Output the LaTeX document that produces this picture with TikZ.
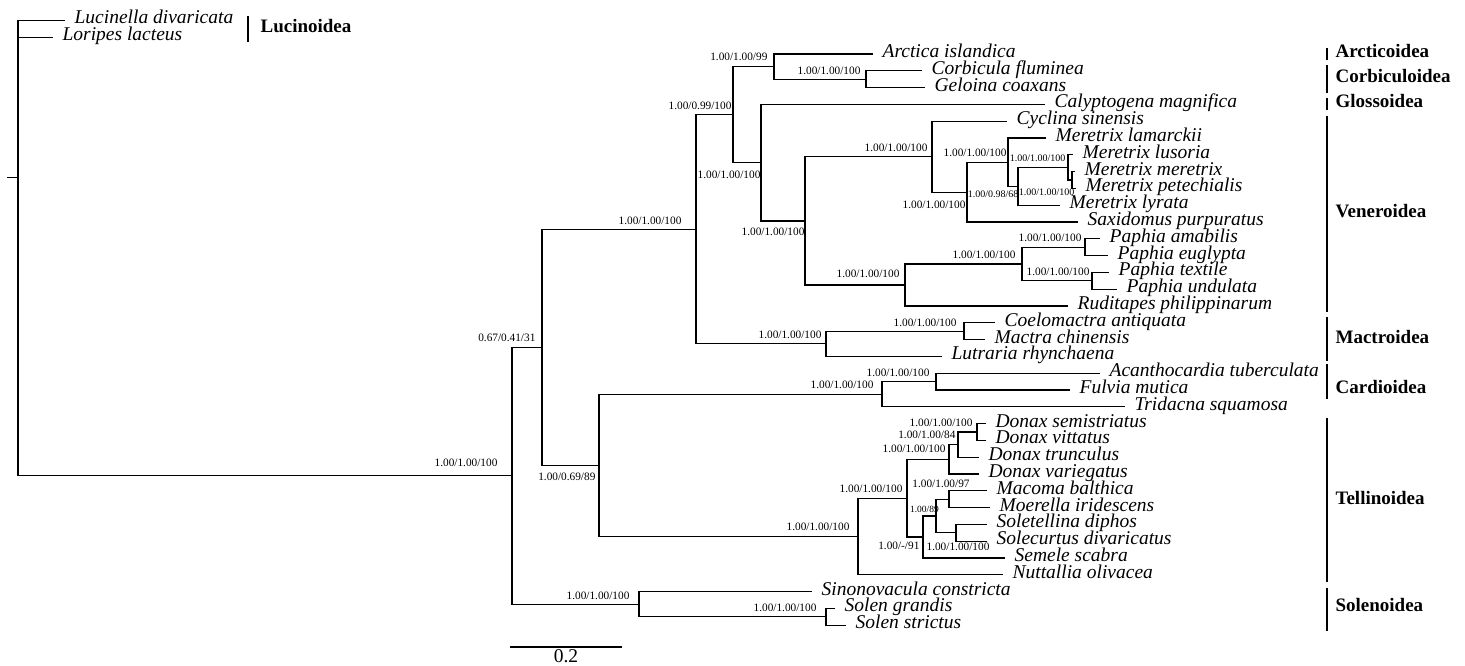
\documentclass[tikz,border=0pt]{standalone}
\usepackage{fontspec}
\setmainfont{Liberation Serif}
\usepackage{tikz}

\begin{document}
\begin{tikzpicture}[x=1pt,y=-1pt,line width=1.2pt,
	taxon/.style={anchor=west,inner xsep=9pt,inner ysep=0pt,text height=13pt,text depth=6pt,font=\fontsize{19.5}{20}\selectfont\itshape},
	supp/.style={anchor=east,inner sep=0pt,font=\fontsize{11.3}{12}\selectfont},
	suppsm/.style={supp,font=\fontsize{10}{11}\selectfont},
	clade/.style={anchor=west,inner sep=0pt,text height=13pt,text depth=6pt,font=\fontsize{19}{20}\selectfont\bfseries}]
			\useasboundingbox (0,0) rectangle (1465,665);
			
			% internal nodes
			\coordinate (stub) at (7,177.8);
			\coordinate (root) at (18,177.8);
			\coordinate (n0) at (512,475.7);
			\coordinate (nA) at (542,347.3);
			\coordinate (nB) at (696,229.2);
			\coordinate (nC) at (733,114.6);
			\coordinate (nD) at (774,66.6);
			\coordinate (nE) at (866,79.2);
			\coordinate (nF) at (761,162.7);
			\coordinate (nG) at (805,220.9);
			\coordinate (nH) at (932,156.7);
			\coordinate (nI) at (967,192.1);
			\coordinate (nJ) at (1008,162.2);
			\coordinate (nK) at (1018,186.3);
			\coordinate (nL) at (1068,167.4);
			\coordinate (nM) at (1072,180);
			\coordinate (nO) at (905,285);
			\coordinate (nP) at (1022,264);
			\coordinate (nQ) at (1085,247.2);
			\coordinate (nR) at (1092,280.8);
			\coordinate (nS) at (826,343.8);
			\coordinate (nT) at (964,331.2);
			\coordinate (nU) at (882,394.2);
			\coordinate (nV) at (936,381.6);
			\coordinate (nAA) at (599,465.3);
			\coordinate (nW) at (858,536.5);
			\coordinate (nX) at (907,498.2);
			\coordinate (nY) at (949,459.3);
			\coordinate (nYA) at (958,444.6);
			\coordinate (nYB) at (977,432);
			\coordinate (nZ) at (923,537);
			\coordinate (nAB) at (936,516);
			\coordinate (nAC) at (949,499.2);
			\coordinate (nAD) at (956,532.8);
			\coordinate (nAE) at (639,604.2);
			\coordinate (nAF) at (826,616.8);
			
			% tips
			\node[taxon] (luc) at (65,20.4) {Lucinella divaricata};
			\node[taxon] (lor) at (53,37.2) {Loripes lacteus};
			\node[taxon] (arc) at (873,54) {Arctica islandica};
			\node[taxon] (cor) at (922,70.8) {Corbicula fluminea};
			\node[taxon] (gel) at (925,87.6) {Geloina coaxans};
			\node[taxon] (cal) at (1045,104.4) {Calyptogena magnifica};
			\node[taxon] (cyc) at (1007,121.2) {Cyclina sinensis};
			\node[taxon] (mla) at (1046,138) {Meretrix lamarckii};
			\node[taxon] (mlu) at (1073,154.8) {Meretrix lusoria};
			\node[taxon] (mme) at (1075,171.6) {Meretrix meretrix};
			\node[taxon] (mpe) at (1076,188.4) {Meretrix petechialis};
			\node[taxon] (mly) at (1060,205.2) {Meretrix lyrata};
			\node[taxon] (sax) at (1078,222) {Saxidomus purpuratus};
			\node[taxon] (pam) at (1100,238.8) {Paphia amabilis};
			\node[taxon] (peu) at (1108,255.6) {Paphia euglypta};
			\node[taxon] (pte) at (1109,272.4) {Paphia textile};
			\node[taxon] (pun) at (1117,289.2) {Paphia undulata};
			\node[taxon] (rud) at (1068,306) {Ruditapes philippinarum};
			\node[taxon] (coe) at (995,322.8) {Coelomactra antiquata};
			\node[taxon] (mac) at (985,339.6) {Mactra chinensis};
			\node[taxon] (lut) at (942,356.4) {Lutraria rhynchaena};
			\node[taxon] (aca) at (1100,373.2) {Acanthocardia tuberculata};
			\node[taxon] (ful) at (1070,390) {Fulvia mutica};
			\node[taxon] (tri) at (1125,406.8) {Tridacna squamosa};
			\node[taxon] (dse) at (986,423.6) {Donax semistriatus};
			\node[taxon] (dvi) at (986,440.4) {Donax vittatus};
			\node[taxon] (dtr) at (979,457.2) {Donax trunculus};
			\node[taxon] (dva) at (979,474) {Donax variegatus};
			\node[taxon] (mcb) at (987,490.8) {Macoma balthica};
			\node[taxon] (moe) at (990,507.6) {Moerella iridescens};
			\node[taxon] (sol) at (987,524.4) {Soletellina diphos};
			\node[taxon] (scu) at (987,541.2) {Solecurtus divaricatus};
			\node[taxon] (sem) at (1005,558) {Semele scabra};
			\node[taxon] (nut) at (1003,574.8) {Nuttallia olivacea};
			\node[taxon] (sin) at (812,591.6) {Sinonovacula constricta};
			\node[taxon] (sgr) at (835,608.4) {Solen grandis};
			\node[taxon] (sst) at (846,625.2) {Solen strictus};
			
			% branches
			\draw (stub) -- (root);
			\draw (root) |- (luc.west);
			\draw (root) |- (lor.west);
			\draw (root) |- (n0);
			\draw (n0) |- (nA);
			\draw (n0) |- (nAE);
			\draw (nA) |- (nB);
			\draw (nA) |- (nAA);
			\draw (nB) |- (nC);
			\draw (nB) |- (nS);
			\draw (nC) |- (nD);
			\draw (nC) |- (nF);
			\draw (nD) |- (arc.west);
			\draw (nD) |- (nE);
			\draw (nE) |- (cor.west);
			\draw (nE) |- (gel.west);
			\draw (nF) |- (cal.west);
			\draw (nF) |- (nG);
			\draw (nG) |- (nH);
			\draw (nG) |- (nO);
			\draw (nH) |- (cyc.west);
			\draw (nH) |- (nI);
			\draw (nI) |- (nJ);
			\draw (nI) |- (sax.west);
			\draw (nJ) |- (mla.west);
			\draw (nJ) |- (nK);
			\draw (nK) |- (nL);
			\draw (nK) |- (mly.west);
			\draw (nL) |- (mlu.west);
			\draw (nL) |- (nM);
			\draw (nM) |- (mme.west);
			\draw (nM) |- (mpe.west);
			\draw (nO) |- (nP);
			\draw (nO) |- (rud.west);
			\draw (nP) |- (nQ);
			\draw (nP) |- (nR);
			\draw (nQ) |- (pam.west);
			\draw (nQ) |- (peu.west);
			\draw (nR) |- (pte.west);
			\draw (nR) |- (pun.west);
			\draw (nS) |- (nT);
			\draw (nS) |- (lut.west);
			\draw (nT) |- (coe.west);
			\draw (nT) |- (mac.west);
			\draw (nAA) |- (nU);
			\draw (nAA) |- (nW);
			\draw (nU) |- (nV);
			\draw (nU) |- (tri.west);
			\draw (nV) |- (aca.west);
			\draw (nV) |- (ful.west);
			\draw (nW) |- (nX);
			\draw (nW) |- (nut.west);
			\draw (nX) |- (nY);
			\draw (nX) |- (nZ);
			\draw (nY) |- (nYA);
			\draw (nY) |- (dva.west);
			\draw (nYA) |- (nYB);
			\draw (nYA) |- (dtr.west);
			\draw (nYB) |- (dse.west);
			\draw (nYB) |- (dvi.west);
			\draw (nZ) |- (nAB);
			\draw (nZ) |- (sem.west);
			\draw (nAB) |- (nAC);
			\draw (nAB) |- (nAD);
			\draw (nAC) |- (mcb.west);
			\draw (nAC) |- (moe.west);
			\draw (nAD) |- (sol.west);
			\draw (nAD) |- (scu.west);
			\draw (nAE) |- (sin.west);
			\draw (nAE) |- (nAF);
			\draw (nAF) |- (sgr.west);
			\draw (nAF) |- (sst.west);
			
			% support values
			\node[supp] (s0) at (498,463) {1.00/1.00/100};
			\node[supp] (sA) at (536,338) {0.67/0.41/31};
			\node[supp] (sB) at (682,221) {1.00/1.00/100};
			\node[supp] (sC) at (732,106) {1.00/0.99/100};
			\node[supp] (sD) at (768,57) {1.00/1.00/99};
			\node[supp] (sE) at (861,71) {1.00/1.00/100};
			\node[supp] (sF) at (761,175) {1.00/1.00/100};
			\node[supp] (sG) at (805,232) {1.00/1.00/100};
			\node[supp] (sH) at (928,148) {1.00/1.00/100};
			\node[supp] (sI) at (966,205) {1.00/1.00/100};
			\node[supp] (sJ) at (1007,153) {1.00/1.00/100};
			\node[suppsm] (sK) at (1019,194) {1.00/0.98/68};
			\node[suppsm] (sL) at (1066,158) {1.00/1.00/100};
			\node[suppsm] (sM) at (1075,192) {1.00/1.00/100};
			\node[supp] (sO) at (900,274) {1.00/1.00/100};
			\node[supp] (sP) at (1016,255) {1.00/1.00/100};
			\node[supp] (sQ) at (1082,238) {1.00/1.00/100};
			\node[supp] (sR) at (1090,272) {1.00/1.00/100};
			\node[supp] (sS) at (822,335) {1.00/1.00/100};
			\node[supp] (sT) at (957,323) {1.00/1.00/100};
			\node[supp] (sU) at (874,385) {1.00/1.00/100};
			\node[supp] (sV) at (930,373) {1.00/1.00/100};
			\node[supp] (sAA) at (596,477) {1.00/0.69/89};
			\node[supp] (sW) at (850,527) {1.00/1.00/100};
			\node[supp] (sX) at (903,489) {1.00/1.00/100};
			\node[supp] (sY) at (946,449) {1.00/1.00/100};
			\node[supp] (sYA) at (956,435) {1.00/1.00/84};
			\node[supp] (sYB) at (973,423) {1.00/1.00/100};
			\node[supp] (sZ) at (920,546) {1.00/-/91};
			\node[suppsm,anchor=west,font=\fontsize{9.5}{10}\selectfont] (sAB) at (909.5,509) {1.00/89};
			\node[supp,anchor=center] (sAC) at (941,484) {1.00/1.00/97};
			\node[supp,anchor=center] (sAD) at (958,547) {1.00/1.00/100};
			\node[supp] (sAE) at (630,596) {1.00/1.00/100};
			\node[supp] (sAF) at (817,608) {1.00/1.00/100};
			
			% superfamilies
			\draw (248,16) -- (248,42);
			\node[clade] (cLuc) at (260,28.8) {Lucinoidea};
			\draw (1327,48) -- (1327,60);
			\node[clade] (cArc) at (1335,54) {Arcticoidea};
			\draw (1327,65) -- (1327,93);
			\node[clade] (cCor) at (1335,79) {Corbiculoidea};
			\draw (1327,98) -- (1327,110);
			\node[clade] (cGlo) at (1335,104) {Glossoidea};
			\draw (1327,116) -- (1327,312);
			\node[clade] (cVen) at (1335,214) {Veneroidea};
			\draw (1327,317) -- (1327,361);
			\node[clade] (cMac) at (1335,340) {Mactroidea};
			\draw (1327,364) -- (1327,399);
			\node[clade] (cCar) at (1335,390) {Cardioidea};
			\draw (1327,418) -- (1327,582);
			\node[clade] (cTel) at (1335,501) {Tellinoidea};
			\draw (1327,588) -- (1327,631);
			\node[clade] (cSol) at (1335,608) {Solenoidea};
			
			% scale bar
			\coordinate (sb1) at (510,647);
			\coordinate (sb2) at (622,647);
			\draw (sb1) -- (sb2);
			\node[anchor=base,inner sep=0pt,font=\fontsize{19.5}{20}\selectfont] (sbl) at (566,662) {0.2};
		\end{tikzpicture}
\end{document}
